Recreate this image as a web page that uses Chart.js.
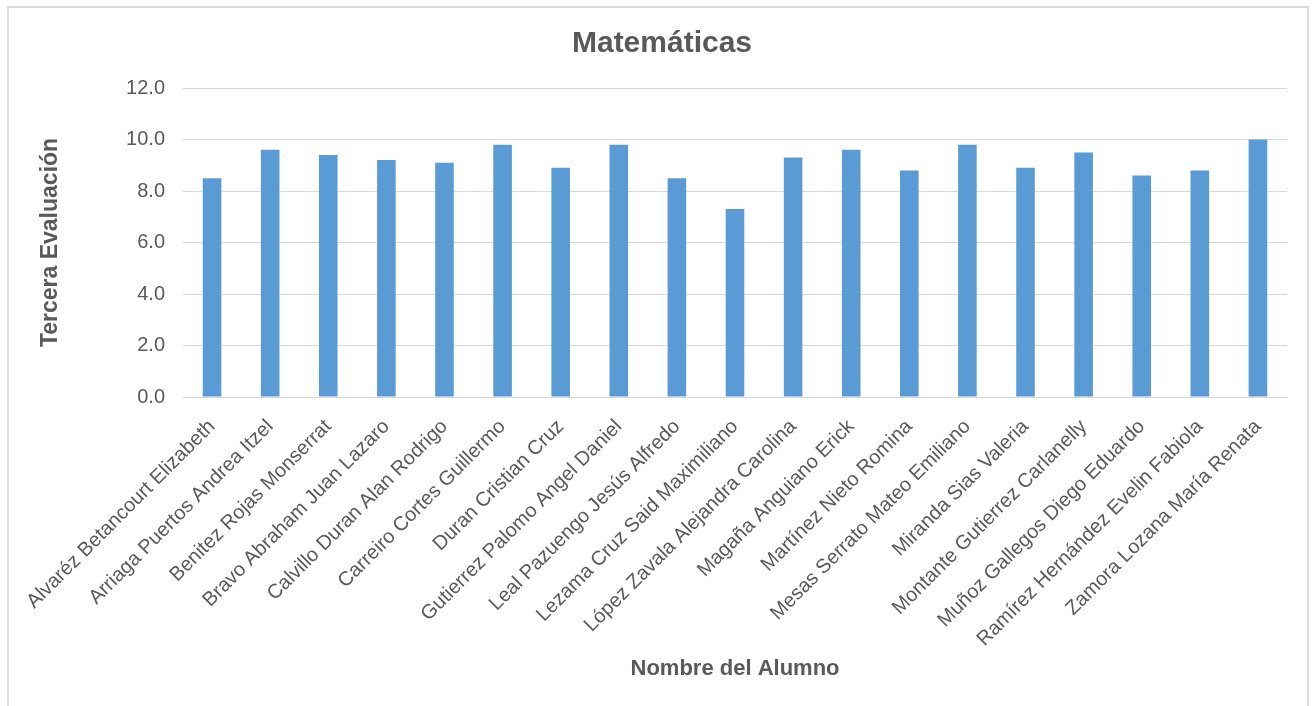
<!DOCTYPE html>
<html>
<head>
<meta charset="utf-8">
<script src="https://cdn.jsdelivr.net/npm/chart.js@4"></script>
<style>
  html, body { margin: 0; padding: 0; background: #fff; }
  #wrap { position: relative; width: 1314px; height: 706px; }
  #frame {
    position: absolute; left: 7px; top: 6px; width: 1302px; height: 720px;
    border: 2px solid #dcdcdc; box-sizing: border-box;
  }
  canvas { position: absolute; left: 0; top: 0; }
</style>
</head>
<body>
<div id="wrap">
  <div id="frame"></div>
  <canvas id="chart" width="1314" height="706"></canvas>
</div>
<script>
// Datos de la gráfica
const alumnos = [
  "Alvaréz Betancourt Elizabeth",
  "Arriaga Puertos Andrea Itzel",
  "Benitez Rojas Monserrat",
  "Bravo Abraham Juan Lazaro",
  "Calvillo Duran Alan Rodrigo",
  "Carreiro Cortes Guillermo",
  "Duran Cristian Cruz",
  "Gutierrez Palomo Angel Daniel",
  "Leal Pazuengo Jesús Alfredo",
  "Lezama Cruz Said Maximiliano",
  "López Zavala Alejandra Carolina",
  "Magaña Anguiano Erick",
  "Martínez Nieto Romina",
  "Mesas Serrato Mateo Emiliano",
  "Miranda Sias Valeria",
  "Montante Gutierrez Carlanelly",
  "Muñoz Gallegos Diego Eduardo",
  "Ramírez Hernández Evelin Fabiola",
  "Zamora Lozana María Renata"
];
const calificaciones = [8.5, 9.6, 9.4, 9.2, 9.1, 9.8, 8.9, 9.8, 8.5, 7.3, 9.3, 9.6, 8.8, 9.8, 8.9, 9.5, 8.6, 8.8, 10.0];
const yMin = 0, yMax = 12, yStep = 2;

const gris = "#595959";
const fuente = "'Liberation Sans', Arial, sans-serif";

new Chart(document.getElementById("chart"), {
  type: "bar",
  data: {
    labels: alumnos,
    datasets: [{
      label: "Tercera Evaluación",
      data: calificaciones,
      backgroundColor: "#5b9bd5",
      borderWidth: 0,
      categoryPercentage: 1,
      barPercentage: 0.32
    }]
  },
  options: {
    responsive: false,
    animation: false,
    layout: { padding: { left: 37, right: 27, top: 0, bottom: 24 } },
    plugins: {
      legend: { display: false },
      tooltip: { enabled: false },
      title: {
        display: true,
        text: "Matemáticas",
        color: gris,
        font: { family: fuente, size: 30, weight: "bold" },
        padding: { top: 26, bottom: 26 }
      }
    },
    scales: {
      x: {
        grid: { display: false, drawTicks: false },
        border: { color: "#d9d9d9", width: 1 },
        ticks: {
          color: gris,
          font: { family: fuente, size: 20 },
          maxRotation: 45, minRotation: 45,
          autoSkip: false,
          padding: 18
        },
        title: {
          display: true,
          text: "Nombre del Alumno",
          color: gris,
          font: { family: fuente, size: 22, weight: "bold" },
          padding: 0
        },
        afterFit: (s) => { s.height = 285; }
      },
      y: {
        min: yMin, max: yMax,
        grid: { color: "#d9d9d9", drawTicks: false },
        border: { display: false },
        ticks: {
          stepSize: yStep,
          color: gris,
          font: { family: fuente, size: 20 },
          padding: 18,
          callback: (v) => v.toFixed(1)
        },
        title: {
          display: true,
          text: "Tercera Evaluación",
          color: gris,
          font: { family: fuente, size: 23, weight: "bold" },
          padding: 0
        },
        afterFit: (s) => { s.width = 146; }
      }
    }
  }
});
</script>
</body>
</html>
